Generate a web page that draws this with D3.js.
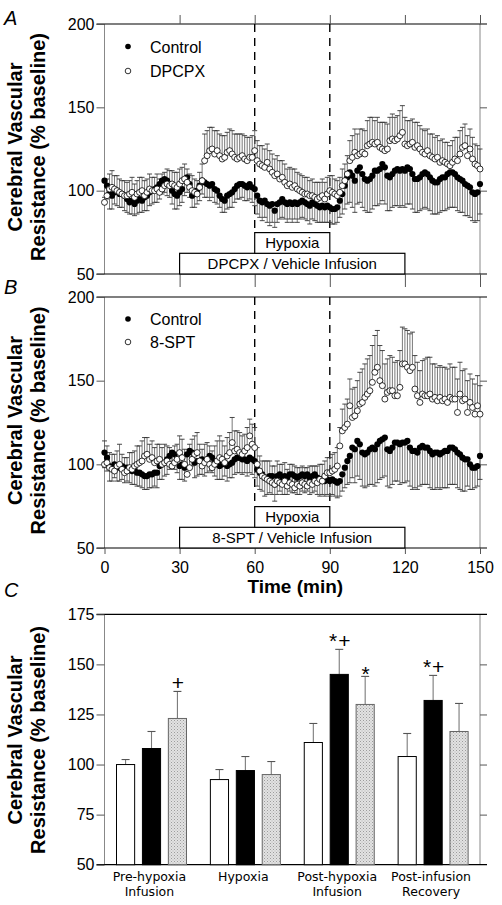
<!DOCTYPE html>
<html><head><meta charset="utf-8">
<script src="https://cdn.jsdelivr.net/npm/d3@7"></script>
<style>
body{margin:0;background:#fff}
svg{display:block}
text{fill:#000}
</style>
</head><body>
<svg id="chart" width="502" height="905" font-family="Arial, 'Liberation Sans', sans-serif"></svg>
<script>
// ---------- DATA ----------
const timeTicks = [0, 30, 60, 90, 120, 150];
const yTicksAB = [50, 100, 150, 200];
const yTicksC = [50, 75, 100, 125, 150, 175];
const minutes = d3.range(0, 151);   // sampling times, one per minute

// Panel A : Control (filled) and DPCPX (open), % baseline
const aControl = [
106,103,98,97,99,100,98,98,97,95,
93,94,92,94,95,94,96,97,99,100,
101,102,104,106,107,106,104,100,98,97,
99,101,106,108,104,97,98,100,103,106,
105,104,103,104,101,100,97,95,94,97,
98,99,101,103,104,104,103,102,104,102,
101,97,94,93,94,92,91,92,88,92,
93,95,93,92,93,92,93,92,93,94,
93,92,91,93,92,91,90,91,90,91,
90,89,89,90,94,98,103,108,111,109,
106,112,114,110,107,106,107,109,112,112,
113,116,114,109,108,110,112,113,112,113,
112,114,113,110,107,107,108,110,111,110,
108,106,105,105,107,108,108,110,111,111,
110,108,107,106,104,103,102,99,98,99,
104];
const aControlErr = [
10,8,9,8,7,9,8,8,9,8,
7,8,7,8,8,7,8,9,8,8,
8,9,9,8,8,9,8,8,9,8,
8,8,9,9,8,7,8,8,9,8,
9,8,9,8,8,8,7,8,7,8,
8,9,8,8,9,8,9,8,9,9,
10,11,10,11,10,11,12,11,10,11,
10,11,10,11,10,11,10,11,10,10,
10,10,11,10,10,10,9,10,9,10,
9,9,9,9,10,12,14,16,18,19,
19,20,21,20,19,19,20,20,21,21,
21,22,22,21,20,20,21,22,22,22,
22,22,21,21,20,20,20,21,21,21,
20,20,19,19,20,20,20,21,21,21,
20,20,20,19,19,18,18,17,17,17,
18];
const aDrug = [
93,97,101,102,101,100,99,98,97,97,
98,99,96,98,99,100,97,99,101,100,
100,101,99,101,103,104,103,104,103,102,
104,106,107,105,102,100,99,98,102,106,
118,121,124,125,122,124,121,119,120,123,
124,122,120,119,120,121,119,118,120,120,
124,118,116,115,114,117,113,111,109,110,
107,108,105,103,104,102,103,101,100,99,
98,98,97,97,96,95,96,97,95,98,
100,99,98,97,99,103,106,110,118,120,
123,121,122,123,122,127,128,129,128,129,
126,125,124,125,130,131,130,131,133,135,
128,127,128,129,126,127,125,123,122,124,
121,120,119,120,117,118,117,116,115,117,
119,118,122,126,127,121,125,119,116,115,
113];
const aDrugErr = [
12,10,9,10,8,9,8,8,9,8,
8,9,8,8,9,8,9,8,9,8,
8,9,8,9,8,9,9,8,8,9,
9,8,9,8,8,9,8,8,9,10,
16,15,14,13,14,12,13,14,13,12,
13,14,14,15,14,13,14,14,12,13,
12,12,11,12,11,11,11,11,10,11,
11,10,11,10,10,11,10,10,10,10,
10,10,9,10,9,10,9,10,10,10,
9,10,9,9,9,10,10,11,12,13,
14,13,15,14,14,15,16,15,14,15,
15,16,17,15,14,15,14,14,15,16,
16,15,14,14,15,14,14,14,14,13,
13,14,13,13,13,13,12,13,12,13,
13,14,14,12,13,12,12,13,12,12,
12];

// Panel B : Control (filled) and 8-SPT (open)
const bControl = [
107,104,99,98,100,99,98,99,98,98,
97,96,97,95,95,94,93,93,94,94,
95,95,99,100,101,103,105,107,106,103,
99,100,98,106,108,107,101,102,102,103,
102,103,105,104,101,100,99,100,101,99,
100,101,103,104,104,103,103,102,104,103,
102,97,95,94,92,92,93,93,88,93,
94,92,93,92,94,94,93,92,93,94,
93,94,92,93,94,92,91,91,90,91,
90,91,90,89,90,94,98,102,105,110,
109,114,112,107,106,107,109,110,109,112,
114,115,116,109,108,110,113,113,112,113,
113,114,110,108,108,107,110,111,110,110,
108,106,107,107,106,107,108,108,110,110,
109,107,106,104,103,103,100,98,98,99,
105];
const bControlErr = [
9,8,9,8,8,9,8,8,9,8,
8,8,9,8,8,8,8,8,8,8,
8,9,8,9,8,9,8,9,9,8,
8,9,8,9,9,8,9,9,8,9,
9,8,9,9,8,9,8,9,8,9,
8,9,9,9,9,9,8,9,9,9,
10,10,10,10,11,10,10,11,10,11,
10,10,11,10,10,11,10,10,11,10,
10,10,10,10,10,10,10,9,9,9,
9,9,9,9,9,10,12,14,16,18,
20,21,21,20,20,20,21,22,22,23,
23,23,23,22,22,22,23,23,24,24,
24,24,23,23,22,22,23,23,22,22,
22,21,22,21,21,21,22,22,22,22,
21,21,21,20,19,16,15,13,12,12,
14];
const bDrug = [
100,101,98,97,96,99,100,97,95,96,
98,97,99,100,101,102,105,106,103,104,
101,102,103,100,101,102,100,99,101,103,
107,104,100,94,98,103,106,107,102,99,
101,103,100,98,100,102,104,103,101,105,
107,113,108,109,107,106,108,110,117,112,
110,100,96,93,92,91,90,89,88,90,
89,88,90,87,89,88,86,88,87,89,
88,87,89,88,90,89,91,90,93,95,
95,96,97,99,111,120,122,124,135,128,
129,132,136,137,140,142,144,149,155,158,
150,147,139,143,144,144,141,141,146,160,
160,158,156,158,145,141,137,142,141,141,
142,139,140,138,140,138,139,137,140,139,
139,131,142,138,139,131,137,134,130,135,
130];
const bDrugErr = [
14,10,9,9,10,9,12,9,9,8,
9,10,9,11,10,12,11,10,9,10,
9,10,9,10,11,9,10,9,10,9,
10,11,9,13,14,12,11,12,10,10,
11,10,11,10,11,12,13,11,10,11,
12,15,12,11,12,11,10,12,10,12,
12,10,9,9,10,11,12,10,11,12,
11,12,11,10,11,12,13,10,11,10,
10,11,10,11,9,10,9,10,9,9,
9,10,10,11,11,13,14,15,16,17,
17,18,19,20,20,21,21,22,22,22,
21,21,21,20,21,20,20,21,22,22,
21,22,22,21,20,20,19,20,22,23,
22,21,20,20,19,20,19,20,20,19,
19,20,19,18,18,19,17,17,18,18,
17];

// Panel C : phase means
const cGroups = ["Pre-hypoxia Infusion", "Hypoxia", "Post-hypoxia Infusion", "Post-infusion Recovery"];
const cGroupLines = [["Pre-hypoxia", "Infusion"], ["Hypoxia"], ["Post-hypoxia", "Infusion"], ["Post-infusion", "Recovery"]];
const cSeries = ["Vehicle", "DPCPX", "8-SPT"];
const cVehicle = [100, 92.5, 111, 104];
const cVehicleErr = [2.5, 5, 9.5, 11.5];
const cDPCPX = [108, 97, 145, 132];
const cDPCPXErr = [8.5, 7, 12.5, 12.5];
const cSPT = [123, 95, 130, 116.5];
const cSPTErr = [13.5, 6.5, 14, 14];
const cDPCPXMarks = ["", "", "*+", "*+"];
const cSPTMarks = ["+", "", "*", ""];

// ---------- DRAWING ----------
const svg = d3.select("#chart");
const defs = svg.append("defs");
const pat = defs.append("pattern").attr("id", "stip").attr("width", 3).attr("height", 3)
  .attr("patternUnits", "userSpaceOnUse");
pat.append("rect").attr("width", 3).attr("height", 3).attr("fill", "#e2e2e2");
pat.append("rect").attr("x", 0).attr("y", 0).attr("width", 1).attr("height", 1).attr("fill", "#9c9c9c");
pat.append("rect").attr("x", 1.5).attr("y", 1.5).attr("width", 1).attr("height", 1).attr("fill", "#b4b4b4");

const X0 = 104.5, X1 = 480, XR = 487;
const x = d3.scaleLinear().domain([0, 150]).range([X0, X1]);

function yLabel(cy) {
  const t = svg.append("g").attr("transform", `translate(0,${cy}) rotate(-90)`);
  t.append("text").attr("x", 0).attr("y", 22).attr("text-anchor", "middle")
    .attr("font-size", 20).attr("font-weight", "bold").text("Cerebral Vascular");
  t.append("text").attr("x", 0).attr("y", 45).attr("text-anchor", "middle")
    .attr("font-size", 20).attr("font-weight", "bold").text("Resistance (% baseline)");
}

function styleAxis(g) {
  g.select(".domain").remove();
  g.attr("font-family", null);
  g.selectAll(".tick line").attr("stroke", "#555").attr("stroke-width", 1);
  g.selectAll(".tick text").attr("font-size", 16);
}

function frame(y, top, bottom) {
  svg.append("line").attr("x1", X0).attr("x2", X0).attr("y1", y(top)).attr("y2", y(bottom))
    .attr("stroke", "#888").attr("stroke-width", 1);
  svg.append("line").attr("x1", X1).attr("x2", X1).attr("y1", y(top)).attr("y2", y(bottom))
    .attr("stroke", "#888").attr("stroke-width", 1);
  svg.append("line").attr("x1", X0 - 8).attr("x2", XR).attr("y1", y(top)).attr("y2", y(top))
    .attr("stroke", "#000").attr("stroke-width", 1.2);
  svg.append("line").attr("x1", X0 - 8).attr("x2", XR).attr("y1", y(bottom)).attr("y2", y(bottom))
    .attr("stroke", "#000").attr("stroke-width", 1.2);
}

function timePanel(opt) {
  const y = d3.scaleLinear().domain([50, 200]).range([opt.yBottom, opt.yTop]);
  frame(y, 200, 50);

  const gl = svg.append("g").attr("transform", `translate(${X0},0)`)
    .call(d3.axisLeft(y).tickValues(yTicksAB).tickSize(8).tickPadding(2).tickFormat(d3.format("d")));
  styleAxis(gl);
  const gr = svg.append("g").attr("transform", `translate(${X1},0)`)
    .call(d3.axisRight(y).tickValues([100, 150]).tickSize(7).tickFormat(""));
  styleAxis(gr);
  const gt = svg.append("g").attr("transform", `translate(0,${opt.yTop})`)
    .call(d3.axisTop(x).tickValues(timeTicks.slice(1)).tickSize(opt.topTick).tickFormat(""));
  styleAxis(gt);
  const gb = svg.append("g").attr("transform", `translate(0,${opt.yBottom})`)
    .call(d3.axisBottom(x).tickValues(opt.bottomLabels ? timeTicks : timeTicks.slice(1))
      .tickSize(opt.bottomTick).tickPadding(7.6).tickFormat(opt.bottomLabels ? d3.format("d") : ""));
  styleAxis(gb);

  // boxes
  const boxH = 20.7;
  const infTop = opt.yBottom - boxH, hypTop = opt.yBottom - 2 * boxH;
  svg.append("rect").attr("x", x(30)).attr("y", infTop).attr("width", x(120) - x(30)).attr("height", boxH)
    .attr("fill", "#fff").attr("stroke", "#000").attr("stroke-width", 1.2);
  svg.append("text").attr("x", (x(30) + x(120)) / 2).attr("y", infTop + 15.5).attr("text-anchor", "middle")
    .attr("font-size", 15).text(opt.infLabel);
  svg.append("rect").attr("x", x(60)).attr("y", hypTop).attr("width", x(90) - x(60)).attr("height", boxH)
    .attr("fill", "#fff").attr("stroke", "#000").attr("stroke-width", 1.2);
  svg.append("text").attr("x", (x(60) + x(90)) / 2).attr("y", hypTop + 15.5).attr("text-anchor", "middle")
    .attr("font-size", 15).text("Hypoxia");
  [60, 90].forEach(t => {
    svg.append("line").attr("x1", x(t)).attr("x2", x(t)).attr("y1", opt.yTop).attr("y2", hypTop)
      .attr("stroke", "#000").attr("stroke-width", 1.4).attr("stroke-dasharray", "8,6");
  });

  const g = svg.append("g");
  function errBars(vals, errs, dir) {
    const eg = g.append("g");
    minutes.forEach((m, i) => {
      const yv = y(vals[i]), ye = y(vals[i] + dir * errs[i]);
      eg.append("line").attr("x1", x(m)).attr("x2", x(m)).attr("y1", yv).attr("y2", ye)
        .attr("stroke", "#6a6a6a").attr("stroke-width", 0.9);
      eg.append("line").attr("x1", x(m) - 2.5).attr("x2", x(m) + 2.5).attr("y1", ye).attr("y2", ye)
        .attr("stroke", "#333").attr("stroke-width", 0.9);
    });
  }
  errBars(opt.drug, opt.drugErr, 1);
  errBars(opt.ctrl, opt.ctrlErr, -1);
  g.append("g").selectAll("circle").data(minutes).join("circle")
    .attr("cx", d => x(d)).attr("cy", (d, i) => y(opt.ctrl[i])).attr("r", 3.1).attr("fill", "#000");
  g.append("g").selectAll("circle").data(minutes).join("circle")
    .attr("cx", d => x(d)).attr("cy", (d, i) => y(opt.drug[i])).attr("r", 3)
    .attr("fill", "#fff").attr("stroke", "#000").attr("stroke-width", 0.8);

  svg.append("circle").attr("cx", 128).attr("cy", opt.leg1).attr("r", 2.8).attr("fill", "#000");
  svg.append("text").attr("x", 150).attr("y", opt.leg1 + 6).attr("font-size", 16).text("Control");
  svg.append("circle").attr("cx", 128).attr("cy", opt.leg2).attr("r", 2.8).attr("fill", "#fff")
    .attr("stroke", "#000").attr("stroke-width", 0.8);
  svg.append("text").attr("x", 150).attr("y", opt.leg2 + 6).attr("font-size", 16).text(opt.drugName);

  svg.append("text").attr("x", 4).attr("y", opt.letterY).attr("font-size", 20).attr("font-style", "italic")
    .text(opt.letter);
  yLabel((opt.yTop + opt.yBottom) / 2 - 2);
}

timePanel({yTop: 24, yBottom: 274, ctrl: aControl, ctrlErr: aControlErr, drug: aDrug, drugErr: aDrugErr,
  drugName: "DPCPX", infLabel: "DPCPX / Vehicle Infusion", leg1: 46.5, leg2: 71, letter: "A", letterY: 25,
  topTick: 9, bottomTick: 13, bottomLabels: false});
timePanel({yTop: 297, yBottom: 548, ctrl: bControl, ctrlErr: bControlErr, drug: bDrug, drugErr: bDrugErr,
  drugName: "8-SPT", infLabel: "8-SPT / Vehicle Infusion", leg1: 319, leg2: 342, letter: "B", letterY: 293.5,
  topTick: 0, bottomTick: 6, bottomLabels: true});

svg.append("text").attr("x", (X0 + X1) / 2 + 3).attr("y", 593).attr("text-anchor", "middle")
  .attr("font-size", 19).attr("font-weight", "bold").text("Time (min)");

// ---------- Panel C ----------
const yC = d3.scaleLinear().domain([50, 175]).range([864.7, 614.3]);
frame(yC, 175, 50);
const gcl = svg.append("g").attr("transform", `translate(${X0},0)`)
  .call(d3.axisLeft(yC).tickValues(yTicksC).tickSize(8).tickPadding(2).tickFormat(d3.format("d")));
styleAxis(gcl);
const gcr = svg.append("g").attr("transform", `translate(${X1},0)`)
  .call(d3.axisRight(yC).tickValues([75, 100, 125, 150]).tickSize(7).tickFormat(""));
styleAxis(gcr);

const xC = d3.scaleBand().domain(cGroups).range([X0, X1]).padding(0);
const xSub = d3.scaleBand().domain(cSeries).range([12, 82]).paddingInner(0.3);
const cData = [
  {s: "Vehicle", v: cVehicle, e: cVehicleErr, fill: "#fff", stroke: "#000", marks: ["", "", "", ""]},
  {s: "DPCPX", v: cDPCPX, e: cDPCPXErr, fill: "#000", stroke: "#000", marks: cDPCPXMarks},
  {s: "8-SPT", v: cSPT, e: cSPTErr, fill: "url(#stip)", stroke: "#666", marks: cSPTMarks}
];
const gc = svg.append("g");
cData.forEach(ser => {
  cGroups.forEach((grp, i) => {
    const bx = xC(grp) + xSub(ser.s), bw = xSub.bandwidth(), cx = bx + bw / 2;
    const top = yC(ser.v[i]), cap = yC(ser.v[i] + ser.e[i]);
    gc.append("line").attr("x1", cx).attr("x2", cx).attr("y1", top).attr("y2", cap)
      .attr("stroke", "#7a7a7a").attr("stroke-width", 1.1);
    gc.append("line").attr("x1", cx - 4).attr("x2", cx + 4).attr("y1", cap).attr("y2", cap)
      .attr("stroke", "#555").attr("stroke-width", 1.1);
    gc.append("rect").attr("x", bx).attr("y", top).attr("width", bw).attr("height", yC(50) - top)
      .attr("fill", ser.fill).attr("stroke", ser.stroke).attr("stroke-width", 1);
    const mk = ser.marks[i];
    if (mk) {
      gc.append("text").attr("x", cx + 1).attr("y", cap + (mk === "*" ? 5 : -1))
        .attr("text-anchor", "middle").attr("font-size", 21).attr("letter-spacing", 1).text(mk);
    }
  });
});
cGroups.forEach((grp, i) => {
  const cx = xC(grp) + xC.bandwidth() / 2 - 2;
  cGroupLines[i].forEach((ln, j) => {
    svg.append("text").attr("x", cx).attr("y", 881 + j * 15).attr("text-anchor", "middle")
      .attr("font-size", 12.5).attr("font-family", "'DejaVu Sans', Verdana, sans-serif").text(ln);
  });
});
svg.append("text").attr("x", 4).attr("y", 597).attr("font-size", 20).attr("font-style", "italic").text("C");
yLabel(740);
</script>
</body></html>
